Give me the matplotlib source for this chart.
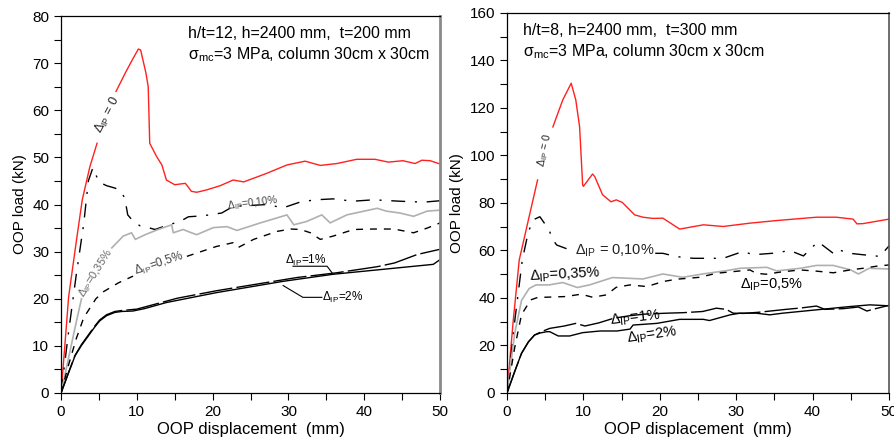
import matplotlib
matplotlib.use("Agg")
import matplotlib.pyplot as plt
import numpy as np

plt.rcParams['font.family'] = ['Liberation Sans', 'DejaVu Sans']
plt.rcParams['mathtext.fontset'] = 'custom'
plt.rcParams['mathtext.rm'] = 'Liberation Sans'
plt.rcParams['mathtext.it'] = 'Liberation Sans:italic'

nan = np.nan

# ---- left panel: h/t=12 ----
L_red_x = [0, 0.5, 1.0, 2.0, 2.8, 3.8, 4.75, nan, 7.25, 8.5, 9.5, 10.2, 10.5, 11.2, 11.5, 11.7, 12.6, 13.3, 13.9,
           15.0, 16.4, 17.2, 17.9, 19.2, 21, 22.7, 24.1, 27.1, 29.8, 32.2, 34.2, 36.4, 39.0, 41.4, 43.2, 45.1,
           46.7, 47.6, 48.7, 50]
L_red_y = [0, 10, 20.4, 32, 41, 48, 53, nan, 64, 68, 71, 73, 72.8, 67.9, 65, 53, 50.2, 48.4, 45.2,
           44.2, 44.5, 42.8, 42.6, 43.1, 44, 45.2, 44.8, 46.6, 48.4, 49.2, 48.3, 48.7, 49.6, 49.6, 49.0, 49.3,
           48.7, 49.4, 49.3, 48.6]

L_010_x = [0, 1.0, 2.0, 3.0, 3.6, 4.2, 5.0, 6.0, 7.1, 7.8, 8.4, 8.8, 9.6, 10.4, 11.5, 12.4, 14, 15.7, 16.8,
           18.7, 21.2, 22.7, 25, 27.1, 29.3, 31.5, 33.5, 35.9, 38.5, 41.2, 44.7, 47.8, 50]
L_010_y = [0, 13, 25, 36, 45, 47.8, 44.8, 44, 43.5, 43, 41.4, 37.8, 36.3, 35.5, 35.1, 34.7, 35.6, 36.4, 37.4,
           37.6, 38.2, 39.6, 39.8, 40, 39.3, 40.5, 41, 41.2, 40.7, 41, 40.7, 40.5, 40.8]

L_035_x = [0, 1.0, 2.0, 2.7, nan, 6.7, 8.2, 9.3, 9.8, 11.1, 12.8, 14.6, 14.8, 16.1, 17.2, 17.9, 20.1, 21.9, 23.2,
           26.3, 29.8, 30.7, 32.4, 34.4, 35.5, 37.7, 41.7, 42.9, 44.7, 46.5, 48.3, 50]
L_035_y = [0, 7.5, 15, 20, nan, 30.8, 33.3, 34, 32.6, 33.6, 34.7, 35.7, 34, 34.7, 34, 33.6, 35.1, 35.3, 34.5,
           36.1, 37.8, 35.7, 36.4, 37.8, 36.1, 37.8, 39.2, 38.6, 38.2, 37.5, 38.6, 38.8]

L_05_x = [0, 1, 2, 3, 3.8, 4.6, 5.6, 7.6, 9.5, nan, 16.6, 20.5, 22.7, 23.4, 25.4, 28.5, 30.3, 31.6, 32.9, 34.2,
          35.9, 38.6, 41.2, 43.9, 46.5, 48.3, 50]
L_05_y = [0, 6, 11.5, 16, 18, 20, 21.5, 23.4, 24.8, nan, 29, 31.1, 31.9, 30.9, 32.6, 34.3, 34.8, 34.7, 34, 32.6,
          33.3, 34.7, 34.8, 34.8, 34, 35, 36.1]

L_1_x = [0, 1, 1.85, 2.7, 3.6, 4.4, 5.1, 6.0, 7.1, 8, 10, 15.3, 20.5, 25.8, 31.1, 36.3, 41.7, 44, 47, 50]
L_1_y = [0, 4.4, 8.0, 10.3, 12.3, 14.1, 15.5, 16.6, 17.3, 17.5, 17.8, 20.1, 21.7, 23.1, 24.5, 25.5, 26.8, 27.6,
         29.4, 30.5]

L_2_x = [0, 1, 1.85, 2.7, 3.6, 4.4, 5.1, 6.0, 7.1, 8, 9.5, 11, 13.9, 20.5, 29.3, 35.9, 44.7, 49.1, 50]
L_2_y = [0, 4.3, 7.9, 10.1, 12.1, 13.9, 15.3, 16.4, 17.1, 17.3, 17.4, 17.9, 19.2, 21.3, 23.7, 25.2, 26.6, 27.3,
         28.3]

# ---- right panel: h/t=8 ----
R_red_x = [0, 0.8, 1.6, 2.9, 3.4, 4.0, nan, 6.0, 7.3, 8.4, 9.0, 9.5, 9.9, 10.0, 11.2, 11.5, 12.5, 13.6, 14.3,
           15.1, 16.7, 17.8, 19.1, 20.4, 22.6, 25.7, 28.3, 31.8, 35.3, 40.5, 43.1, 45.3, 45.8, 46.6, 50]
R_red_y = [0, 30, 56, 74.3, 81.3, 89.7, nan, 112, 123.4, 130.4, 123.4, 112.1, 87.6, 87, 92.2, 91, 83.5, 80.5,
           81.3, 80.2, 75, 74, 73.5, 73.6, 69, 70.8, 70.1, 71.5, 72.6, 74, 74, 73.2, 71.2, 71.3, 73.2]

R_010_x = [0, 1, 2, 2.8, 3.5, 4.3, 5.0, 5.6, 6.0, 6.5, 8, nan, 19.4, 20.4, 22.2, 24.4, 26.6, 28.3, 30.9, 32.2,
           35.1, 37.0, 38.8, 40.7, 42.7, 43.3, 44.6, 46.6, 48.8, 50]
R_010_y = [0, 30, 56, 68, 73, 74.2, 71, 67.8, 64.5, 62.3, 60.5, nan, 58.8, 58.8, 57.4, 56.7, 56.7, 56.7, 59.6,
           58.2, 58.9, 60, 57.7, 63.7, 58.8, 60.5, 58.9, 58.2, 57.5, 61.9]

R_035_x = [0, 1, 1.9, 2.9, 3.8, 5.5, 7.3, 9.2, 10.8, 13.8, 17.8, 20.4, 23, 25.6, 28.7, 30.5, 34, 35.3, 38.4,
           40.5, 42.7, 45, 46, 47.4, 50]
R_035_y = [0, 25, 39, 44, 45.5, 45.5, 46.5, 44.4, 45.5, 48.6, 48, 50.1, 48.7, 50.1, 51.5, 52.5, 52.9, 51.4,
           52.5, 53.7, 53.7, 51.8, 50.1, 52.5, 52.2]

R_05_x = [0, 1, 1.9, 3.1, 4.0, 7.7, 9.7, 11.2, 13.0, 14.3, 16.1, 18.3, 20.4, 22.2, 25.2, 27.4, 29.6, 31.8, 32.6,
          33.9, 36, 38.4, 40.5, 42.7, 44.9, 46.6, 48.4, 50]
R_05_y = [0, 19, 33, 39.2, 40.2, 40.6, 41.6, 40.3, 41.3, 44.5, 45.5, 44.8, 46.9, 47.9, 48.7, 50.4, 51.1, 51.8,
          50.4, 50.0, 51, 51.8, 51.3, 50.6, 51.8, 52.5, 53.4, 53.9]

R_1_x = [0, 1, 1.9, 2.8, 3.6, 4.5, 5.6, 7.5, 9.0, 10.2, 12, 14, 16, 18, 20.9, 23, 25.6, 27.4, 28.7, 29.6, 31, 33,
         36.5, 38.5, 40.5, 41.6, 44, 46, 47.1, 48, 50]
R_1_y = [0, 9, 16.7, 21.5, 24.4, 25.8, 27.2, 28.2, 29.3, 28.2, 29.5, 31.5, 32.5, 33.2, 33.6, 33.8, 34.3, 35.7,
         35.2, 33.6, 33.5, 34.0, 35.2, 35.8, 36.6, 35.2, 35.5, 36.2, 34.5, 35.3, 36.9]

R_2_x = [0, 1, 1.9, 2.8, 3.6, 4.4, 5.2, 5.6, 6.7, 8.2, 9.9, 12.2, 14.4, 16.1, 16.5, 19.6, 22.6, 25.7, 26.5, 29.2,
         30.5, 32.6, 34.4, 36.1, 40.5, 44.9, 47.5, 50]
R_2_y = [0, 9, 16.7, 21.5, 24.4, 25.3, 25.8, 25.8, 24.0, 24.0, 25.4, 26.1, 26.1, 26.9, 28.6, 29.3, 31.0, 31.0,
         30.5, 32.9, 33.6, 33.6, 32.9, 33.6, 35, 36.4, 37.1, 36.7]

DASHDOT = (10, 7, 1.5, 7)
DASH = (5, 5)
LONGDASH = (24, 3)

fig = plt.figure(figsize=(8.95, 4.45), dpi=100)
ax1 = fig.add_axes([0.0682, 0.1169, 0.4235, 0.847])
ax2 = fig.add_axes([0.5665, 0.1169, 0.4268, 0.854])


def draw_curves(ax, red, c010, c035, c05, c1, c2):
    ax.plot(*red, color='#ff2020', lw=1.0)
    ax.plot(*c010, color='black', lw=1.0, dashes=DASHDOT)
    ax.plot(*c035, color='#b0b0b0', lw=1.2)
    ax.plot(*c05, color='black', lw=1.0, dashes=DASH)
    ax.plot(*c1, color='black', lw=1.0, dashes=LONGDASH)
    ax.plot(*c2, color='black', lw=1.0)


def style_axes(ax, ymax, ymajor, yminor, rspine_color, rspine_lw):
    ax.set_xlim(0, 50)
    ax.set_ylim(0, ymax)
    ax.set_xticks(np.arange(0, 51, 10))
    ax.set_xticks(np.arange(5, 50, 10), minor=True)
    ax.set_yticks(np.arange(0, ymax + 1, ymajor))
    ax.set_yticks(np.arange(yminor, ymax, ymajor), minor=True)
    ax.tick_params(which='both', direction='out', length=5, width=0.8, labelsize=11)
    ax.set_xlabel('OOP displacement  (mm)', fontsize=12, labelpad=2)
    ax.set_ylabel('OOP load (kN)', fontsize=11, labelpad=4)
    for s in ['left', 'top', 'bottom']:
        ax.spines[s].set_linewidth(0.9)
    ax.spines['right'].set_color(rspine_color)
    ax.spines['right'].set_linewidth(rspine_lw)


draw_curves(ax1, (L_red_x, L_red_y), (L_010_x, L_010_y), (L_035_x, L_035_y),
            (L_05_x, L_05_y), (L_1_x, L_1_y), (L_2_x, L_2_y))
style_axes(ax1, 80, 10, 5, '#8a8a8a', 2.0)

draw_curves(ax2, (R_red_x, R_red_y), (R_010_x, R_010_y), (R_035_x, R_035_y),
            (R_05_x, R_05_y), (R_1_x, R_1_y), (R_2_x, R_2_y))
style_axes(ax2, 160, 20, 10, '#555555', 1.2)

# headers
ax1.text(0.335, 0.955, 'h/t=12, h=2400 mm,  t=200 mm', transform=ax1.transAxes, fontsize=11.5, va='center')
ax1.text(0.335, 0.897, r'σ$_{\rm mc}$=3 MPa, column 30cm x 30cm', transform=ax1.transAxes, fontsize=11.5,
         va='center')
ax2.text(0.042, 0.955, 'h/t=8, h=2400 mm,  t=300 mm', transform=ax2.transAxes, fontsize=11.5, va='center')
ax2.text(0.042, 0.897, r'σ$_{\rm mc}$=3 MPa, column 30cm x 30cm', transform=ax2.transAxes, fontsize=11.5,
         va='center')

# curve labels, left
ax1.text(6.2, 59, r'Δ$_{\rm IP}$ = 0', rotation=62, fontsize=9, ha='center', va='center', color='#222222')
ax1.text(25.3, 40.3, r'Δ$_{\rm IP}$=0,10%', rotation=7, fontsize=7.5, ha='center', va='center', color='#444444')
ax1.text(4.6, 25.5, r'Δ$_{\rm IP}$=0,35%', rotation=58, fontsize=8, ha='center', va='center', color='#666666')
ax1.text(12.9, 27.3, r'Δ$_{\rm IP}$=0,5%', rotation=18, fontsize=8.5, ha='center', va='center', color='#444444')
ax1.text(32.3, 28.2, r'Δ$_{\rm IP}$=1%', fontsize=8.5, ha='center', va='center')
ax1.plot([30.6, 35.1, 35.8], [26.9, 26.9, 25.4], color='black', lw=0.8)
ax1.text(37.2, 20.3, r'Δ$_{\rm IP}$=2%', fontsize=8.5, ha='center', va='center')
ax1.plot([29.3, 31.9, 34.4], [22.8, 20.3, 20.3], color='black', lw=0.8)

# curve labels, right
ax2.text(5.0, 102, r'Δ$_{\rm IP}$ = 0', rotation=78, fontsize=7.5, ha='center', va='center', color='#222222')
ax2.text(14.1, 60, r'Δ$_{\rm IP}$ = 0,10%', fontsize=10.5, ha='center', va='center', color='#222222')
ax2.text(7.6, 49.5, r'Δ$_{\rm IP}$=0,35%', rotation=3, fontsize=10.5, ha='center', va='center')
ax2.text(34.6, 45.6, r'Δ$_{\rm IP}$=0,5%', fontsize=10.5, ha='center', va='center')
ax2.text(16.8, 31.6, r'Δ$_{\rm IP}$=1%', rotation=6, fontsize=10.5, ha='center', va='center')
ax2.text(19.0, 24.3, r'Δ$_{\rm IP}$=2%', rotation=8, fontsize=10.5, ha='center', va='center')

fig.savefig('out.png', dpi=100)
